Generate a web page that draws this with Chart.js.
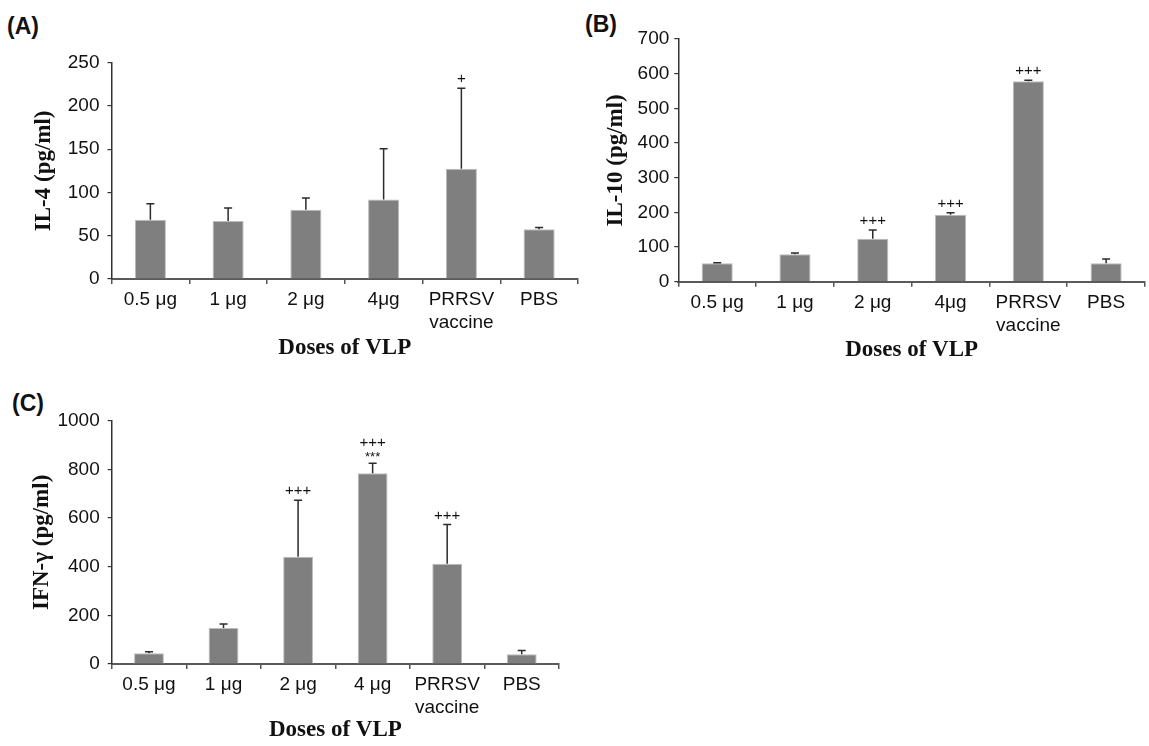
<!DOCTYPE html>
<html>
<head>
<meta charset="utf-8">
<script src="https://cdn.jsdelivr.net/npm/chart.js@4.4.1/dist/chart.umd.min.js"></script>
<style>
  body { margin: 0; background: #fff; }
  #page { position: relative; width: 1149px; height: 746px; overflow: hidden; }
  .box { position: absolute; }
  .tag { position: absolute; font: bold 23px "Liberation Sans", Arial, sans-serif; line-height: 23px; color: #111; }
</style>
</head>
<body>
<div id="page">
  <div class="tag" style="left:7px;top:15px">(A)</div>
  <div class="tag" style="left:585px;top:13px">(B)</div>
  <div class="tag" style="left:12px;top:392px">(C)</div>
  <div class="box" style="left:0;top:0;width:600px;height:360px"><canvas id="chartA"></canvas></div>
  <div class="box" style="left:580px;top:0;width:569px;height:362px"><canvas id="chartB"></canvas></div>
  <div class="box" style="left:0;top:370px;width:600px;height:372px"><canvas id="chartC"></canvas></div>
</div>
<script>
// categorias (doses)
const dosesAB = ['0.5 μg', '1 μg', '2 μg', '4μg', ['PRRSV', 'vaccine'], 'PBS'];
const dosesC = ['0.5 μg', '1 μg', '2 μg', '4 μg', ['PRRSV', 'vaccine'], 'PBS'];

// IL-4 (pg/ml)
const il4Mean = [68.5, 67, 80, 92, 127.5, 57.5];
const il4Err = [18.5, 15, 13.5, 58.5, 93, 2];
const il4Sig = ['', '', '', '', '+', ''];

// IL-10 (pg/ml)
const il10Mean = [53, 79, 124, 193, 578, 53];
const il10Err = [2, 4, 25, 6, 3, 12.5];
const il10Sig = ['', '', '+++', '+++', '+++', ''];

// IFN-γ (pg/ml)
const ifnMean = [44, 148, 441, 784, 412, 40];
const ifnErr = [6, 16, 232, 41, 161, 15];
const ifnSig = ['', '', '+++', '+++', '+++', ''];
const ifnStar = ['', '', '', '***', '', ''];

Chart.defaults.font.family = '"Liberation Sans", Arial, sans-serif';
Chart.defaults.color = '#111';

// barras de erro (só para cima) + marcas de significância
const errorBars = {
  id: 'errorBars',
  afterDatasetsDraw(chart, args, opts) {
    const ctx = chart.ctx;
    const y = chart.scales.y;
    const means = chart.data.datasets[0].data;
    const bars = chart.getDatasetMeta(0).data;
    ctx.save();
    ctx.strokeStyle = '#2b2b2b';
    ctx.lineWidth = 1.5;
    ctx.fillStyle = '#111';
    ctx.textAlign = 'center';
    ctx.textBaseline = 'middle';
    bars.forEach((bar, i) => {
      const yMean = y.getPixelForValue(means[i]);
      const yTop = y.getPixelForValue(means[i] + opts.errors[i]);
      ctx.beginPath();
      ctx.moveTo(bar.x, yMean);
      ctx.lineTo(bar.x, yTop);
      ctx.moveTo(bar.x - 4, yTop);
      ctx.lineTo(bar.x + 4, yTop);
      ctx.stroke();

      const lines = [opts.plus[i], (opts.stars || [])[i]].filter(Boolean);
      let pos = yTop - 9;
      for (let k = lines.length - 1; k >= 0; k--) {
        const txt = lines[k];
        if (txt.startsWith('*')) {
          ctx.font = '13px "Liberation Sans", Arial, sans-serif';
          ctx.fillText(txt, bar.x, pos + 3);
        } else {
          ctx.font = '15px "Liberation Sans", Arial, sans-serif';
          ctx.fillText(txt, bar.x, pos);
        }
        pos -= 11;
      }
    });
    ctx.restore();
  }
};

function makeChart(id, cfg) {
  return new Chart(document.getElementById(id), {
    type: 'bar',
    data: {
      labels: cfg.labels,
      datasets: [{
        data: cfg.means,
        backgroundColor: '#7f7f7f',
        borderColor: '#bcbcbc',
        borderWidth: 1,
        categoryPercentage: 0.8,
        barPercentage: 0.5
      }]
    },
    options: {
      responsive: true,
      maintainAspectRatio: false,
      animation: false,
      layout: { padding: cfg.padding },
      plugins: {
        legend: { display: false },
        tooltip: { enabled: false },
        errorBars: { errors: cfg.errors, plus: cfg.plus, stars: cfg.stars }
      },
      scales: {
        x: {
          grid: { offset: true, drawOnChartArea: false, drawTicks: true, tickLength: 5, color: '#555', lineWidth: 1.5 },
          border: { color: '#5a5a5a', width: 2 },
          ticks: { font: { size: 19, lineHeight: 1.2 }, padding: 4.6, maxRotation: 0, autoSkip: false },
          title: {
            display: true, text: 'Doses of VLP', padding: 0, color: '#111',
            font: { family: '"Liberation Serif", "Times New Roman", serif', size: 23, weight: 'bold', lineHeight: 1 }
          },
          afterFit: s => { s.height = cfg.xHeight; }
        },
        y: {
          min: 0, max: cfg.max,
          grid: { drawOnChartArea: false, drawTicks: true, tickLength: 4, color: '#333', lineWidth: 1.2 },
          border: { color: '#333', width: 1.5 },
          ticks: { stepSize: cfg.step, font: { size: 19 }, padding: cfg.tickPad, format: { useGrouping: false } },
          title: {
            display: true, text: cfg.yTitle, padding: 0, color: '#111',
            font: { family: '"Liberation Serif", "Times New Roman", serif', size: 23, weight: 'bold', lineHeight: 1 }
          },
          afterFit: s => { s.width = cfg.yWidth; }
        }
      }
    },
    plugins: [errorBars]
  });
}

makeChart('chartA', {
  labels: dosesAB, means: il4Mean, errors: il4Err, plus: il4Sig,
  max: 250, step: 50, yTitle: 'IL-4 (pg/ml)', tickPad: 8,
  padding: { top: 62.7, left: 33, right: 22, bottom: 0.5 }, yWidth: 78.5, xHeight: 80.5
});

makeChart('chartB', {
  labels: dosesAB, means: il10Mean, errors: il10Err, plus: il10Sig,
  max: 700, step: 100, yTitle: 'IL-10 (pg/ml)', tickPad: 5,
  padding: { top: 39, left: 24.5, right: 4, bottom: 0.5 }, yWidth: 73.8, xHeight: 79.8
});

makeChart('chartC', {
  labels: dosesC, means: ifnMean, errors: ifnErr, plus: ifnSig, stars: ifnStar,
  max: 1000, step: 200, yTitle: 'IFN-γ (pg/ml)', tickPad: 8,
  padding: { top: 50.7, left: 31, right: 41, bottom: 0.5 }, yWidth: 80.7, xHeight: 77.5
});
</script>
</body>
</html>
